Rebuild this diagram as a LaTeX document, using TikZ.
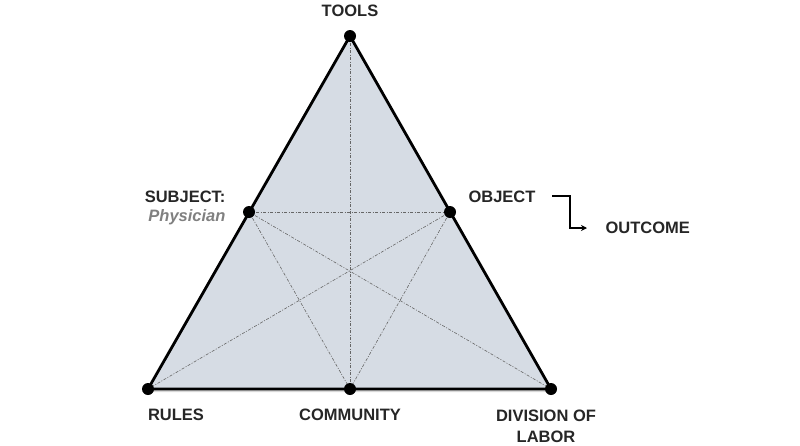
\documentclass[tikz,border=0pt]{standalone}
\usepackage{fontspec}
\setmainfont{Liberation Sans}
\usetikzlibrary{arrows.meta,shadows}
\begin{document}
\begin{tikzpicture}[x=1pt,y=-1pt,
  lbl/.style={font=\bfseries\fontsize{16.5}{19}\selectfont, text=black!85},
  vdot/.style={circle,fill=black,inner sep=0pt,minimum size=12pt},
  guide/.style={draw=black!60, line width=0.6pt, dash pattern=on 3pt off 1.5pt on 1pt off 1.5pt},
  edge/.style={draw=black, line width=2.8pt, line join=round}]
\useasboundingbox (0,0) rectangle (800,445);
\coordinate (T) at (350,36);
\coordinate (L) at (148,389);
\coordinate (R) at (551,389);
\coordinate (M) at (350,389);
\coordinate (SL) at (249,212);
\coordinate (SR) at (450,212);
% shadow
\fill[black!25, opacity=0.6] ([shift={(2,3)}]T) -- ([shift={(2,3)}]R) -- ([shift={(2,3)}]L) -- cycle;
\fill[fill={rgb,255:red,214;green,220;blue,228}] (T) -- (R) -- (L) -- cycle;
\draw[guide] (T) -- (M);
\draw[guide] (SL) -- (SR);
\draw[guide] (SL) -- (R);
\draw[guide] (SR) -- (L);
\draw[guide] (SL) -- (M);
\draw[guide] (SR) -- (M);
\draw[edge] (T) -- (R) -- (L) -- cycle;
\node[vdot] (nT) at (T) {};
\node[vdot] (nL) at (L) {};
\node[vdot] (nR) at (R) {};
\node[vdot] (nM) at (M) {};
\node[vdot] (nSL) at (SL) {};
\node[vdot] (nSR) at (SR) {};
\node[lbl] (tools) at (350,11) {TOOLS};
\node[lbl, anchor=east] (subj) at (229,197) {SUBJECT:};
\node[font=\bfseries\itshape\fontsize{16.5}{19}\selectfont, text=black!50, anchor=east] (phys) at (229,217) {Physician};
\node[lbl, anchor=west] (obj) at (465,197) {OBJECT};
\node[lbl, anchor=west] (out) at (602,228) {OUTCOME};
\node[lbl] (rules) at (176,415) {RULES};
\node[lbl] (comm) at (350,415) {COMMUNITY};
\node[lbl, align=center, font=\bfseries\fontsize{16.5}{21}\selectfont] (div) at (546,426) {DIVISION OF\\LABOR};
\coordinate (a1) at (552,196);
\coordinate (a2) at (587,228);
\draw[line width=1.6pt, -{Stealth[length=6pt,width=6pt]}] (a1) -- (570,196) |- (a2);
\end{tikzpicture}
\end{document}
